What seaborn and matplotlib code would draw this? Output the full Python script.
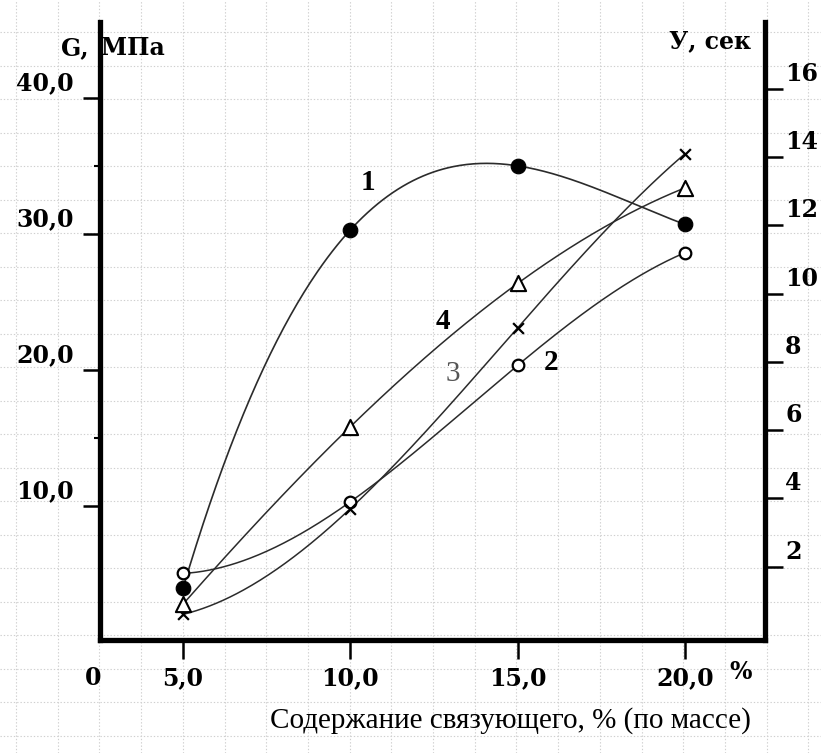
import numpy as np
import pandas as pd
import matplotlib
matplotlib.use("Agg")
import matplotlib.pyplot as plt
from matplotlib.transforms import offset_copy
import seaborn as sns

# Binder content, % by mass
conc = [5.0, 10.0, 15.0, 20.0]
# Curve 1: shear strength G, MPa (left axis)
g_curve1 = [4.0, 30.3, 35.0, 30.7]
# Curves 2-4: time У, s (right axis)
t_curve2 = [1.8, 3.9, 7.9, 11.2]
t_curve3 = [0.6, 3.7, 9.0, 14.1]
t_curve4 = [0.9, 6.1, 10.3, 13.1]

g_ticks = [10, 20, 30, 40]
g_ticklabels = ["10,0", "20,0", "30,0", "40,0"]
g_minor = [15, 35]
t_ticks = [2, 4, 6, 8, 10, 12, 14, 16]
t_ticklabels = [str(v) for v in t_ticks]
x_ticks = [5, 10, 15, 20]
x_ticklabels = ["5,0", "10,0", "15,0", "20,0"]

curve_labels = ["1", "2", "3", "4"]

sns.set_theme(style="white")
plt.rcParams["font.family"] = ["Liberation Serif", "DejaVu Serif"]
plt.rcParams["text.color"] = "black"

W, H = 821, 753
fig = plt.figure(figsize=(W / 100, H / 100), dpi=100)

# graph-paper background
bg = fig.add_axes([0, 0, 1, 1], zorder=-5)
bg.set_xlim(0, W)
bg.set_ylim(H, 0)
bg.set_xticks(np.arange(16, W, 41.7))
bg.set_yticks(np.arange(32, H, 33.5))
bg.grid(True, color="#cfcfcf", linestyle=(0, (1.2, 1.8)), linewidth=0.8)
bg.tick_params(length=0, labelbottom=False, labelleft=False)
for s in bg.spines.values():
    s.set_visible(False)

ax = fig.add_axes([100 / W, 1 - 640 / H, 665 / W, 618 / H])
ax2 = ax.twinx()
for a in (ax, ax2):
    a.patch.set_alpha(0)

ax.set_xlim(2.52, 22.39)
ax.set_ylim(0.2, 45.56)
ax2.set_ylim(-0.15, 17.96)


def smooth(x, y, n=300):
    coef = np.polyfit(x, y, 3)
    xs = np.linspace(min(x), max(x), n)
    return xs, np.polyval(coef, xs)


line_col = "#2b2b2b"

# curve 1 on the G axis
xs, ys = smooth(conc, g_curve1)
sns.lineplot(x=xs, y=ys, ax=ax, color=line_col, lw=1.2, sort=False)
sns.scatterplot(x=conc, y=g_curve1, ax=ax, marker="o", s=110, color="black",
                edgecolor="black", zorder=5)

# curves 2-4 on the time axis
for vals in (t_curve2, t_curve3, t_curve4):
    xs, ys = smooth(conc, vals)
    sns.lineplot(x=xs, y=ys, ax=ax2, color=line_col, lw=1.1, sort=False)

sns.scatterplot(x=conc, y=t_curve2, ax=ax2, marker="o", s=70, facecolor="white",
                edgecolor="black", linewidth=1.6, zorder=5)
sns.scatterplot(x=conc, y=t_curve3, ax=ax2, marker="x", s=60, color="black",
                linewidth=1.6, zorder=5)
sns.scatterplot(x=conc, y=t_curve4, ax=ax2, marker="^", s=120, facecolor="white",
                edgecolor="black", linewidth=1.5, zorder=5)

# spines
for s in ("top", "right"):
    ax.spines[s].set_visible(False)
for s in ("top", "left", "bottom"):
    ax2.spines[s].set_visible(False)
for s in ("left", "bottom"):
    ax.spines[s].set_linewidth(3.8)
    ax.spines[s].set_color("black")
ax2.spines["right"].set_linewidth(3.8)
ax2.spines["right"].set_color("black")

tick_font = dict(fontsize=17, fontweight="bold", color="black", family="DejaVu Serif")

# x ticks
ax.set_xticks(x_ticks)
ax.set_xticklabels(x_ticklabels, **tick_font)
ax.tick_params(axis="x", direction="out", length=14, width=1.8, color="black", pad=5,
               bottom=True)
ax.text(2.52, 0, "0", transform=offset_copy(ax.get_xaxis_transform(), fig, x=-7, y=-38,
        units="dots"), ha="center", va="center", **tick_font)
ax.text(21.65, 0, "%", transform=offset_copy(ax.get_xaxis_transform(), fig, x=0, y=-32,
        units="dots"), ha="center", va="center", **tick_font)

# left ticks
ax.set_yticks(g_ticks)
ax.set_yticks(g_minor, minor=True)
ax.set_yticklabels([])
ax.tick_params(axis="y", which="major", direction="out", length=12, width=1.8,
               color="black", left=True)
ax.tick_params(axis="y", which="minor", direction="out", length=4, width=1.5,
               color="black", left=True)
for v, lab in zip(g_ticks, g_ticklabels):
    ax.text(0, v, lab, transform=offset_copy(ax.get_yaxis_transform(), fig, x=-26, y=3,
            units="dots"), ha="right", va="bottom", **tick_font)

# right ticks
ax2.set_yticks(t_ticks)
ax2.set_yticklabels([])
ax2.tick_params(axis="y", direction="out", length=13, width=1.8, color="black", right=True)
for v, lab in zip(t_ticks, t_ticklabels):
    ax2.text(1, v, lab, transform=offset_copy(ax2.get_yaxis_transform(), fig, x=20, y=3,
             units="dots"), ha="left", va="bottom", **tick_font)

ax.grid(False)
ax2.grid(False)
ax.set_xlabel("")
ax.set_ylabel("")
ax2.set_ylabel("")

# curve numbers
label_pos = [(10.53, 33.8), (16.0, 20.6), (13.05, 19.7), (12.77, 23.6)]
for lab, (px, py) in zip(curve_labels, label_pos):
    ax.text(px, py, lab, ha="center", va="center", fontsize=21,
            fontweight="normal" if lab == "3" else "bold",
            color="#555555" if lab == "3" else "black")

# axis titles
title_font = dict(fontsize=17, fontweight="bold", family="DejaVu Serif", color="black")
fig.text(88 / W, 1 - 48 / H, "G,", ha="right", va="center", **title_font)
fig.text(101 / W, 1 - 48 / H, "МПа", ha="left", va="center", **title_font)
fig.text(751 / W, 1 - 41 / H, "У, сек", ha="right", va="center", **title_font)
fig.text(510 / W, 1 - 721 / H, "Содержание связующего, % (по массе)", ha="center",
         va="center", fontsize=21, color="black")

fig.savefig("out.png", dpi=100, facecolor="white")
